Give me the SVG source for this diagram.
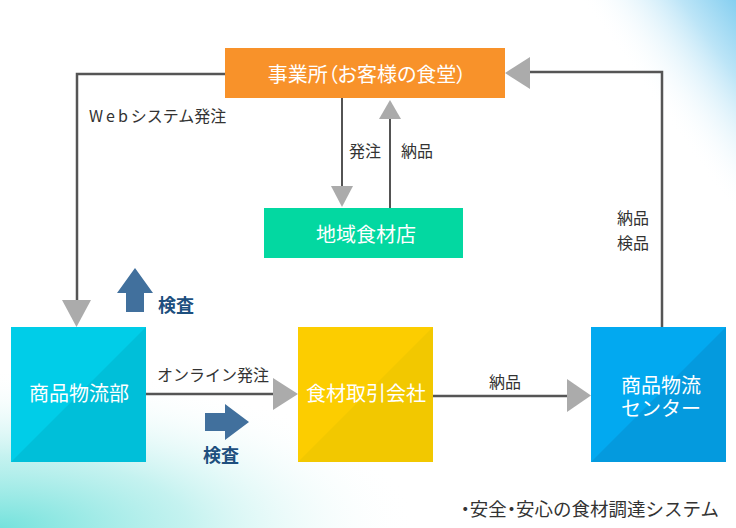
<svg xmlns="http://www.w3.org/2000/svg" width="736" height="528" viewBox="0 0 736 528">
<defs>
<linearGradient id="bgTR" gradientUnits="userSpaceOnUse" x1="736" y1="0" x2="0" y2="528">
<stop offset="0" stop-color="#86cff0"/>
<stop offset="0.05" stop-color="#bde5f7"/>
<stop offset="0.14" stop-color="#ffffff" stop-opacity="0"/>
</linearGradient>
<radialGradient id="bgBL" gradientUnits="userSpaceOnUse" cx="0" cy="528" r="420" gradientTransform="translate(0 528) scale(1 0.38) translate(0 -528)">
<stop offset="0" stop-color="#74e2dc"/>
<stop offset="0.45" stop-color="#b6efec" stop-opacity="0.8"/>
<stop offset="1" stop-color="#ffffff" stop-opacity="0"/>
</radialGradient>
</defs>
<style>
.box-text{font-family:"Noto Sans CJK JP","Noto Sans",sans-serif;font-size:20px;fill:#ffffff;text-anchor:middle;dominant-baseline:central}
.palt{font-feature-settings:"palt" 1}
.lbl{font-family:"Noto Sans CJK JP","Noto Sans",sans-serif;font-size:16px;fill:#333333;dominant-baseline:central}
.insp{font-family:"Noto Sans CJK JP","Noto Sans",sans-serif;font-size:18px;font-weight:bold;fill:#1d4f7e;dominant-baseline:central}
.thick{fill:none;stroke:#555555;stroke-width:2.5}
.thin{fill:none;stroke:#1a1a1a;stroke-width:1.5}
.head{fill:#ababab}
.blue-arrow{fill:#41709d}
.caption{font-family:"Noto Sans CJK JP","Noto Sans",sans-serif;font-size:18.5px;fill:#333333;dominant-baseline:central}
</style>
<rect x="0" y="0" width="736" height="528" fill="#ffffff"/>
<rect x="0" y="0" width="736" height="528" fill="url(#bgTR)"/>
<rect x="0" y="0" width="736" height="528" fill="url(#bgBL)"/>

<g id="connectors">
<polyline class="thick" points="225,74 77,74 77,301"/>
<polygon class="head" points="62,300 91,300 76.5,327"/>
<line class="thin" x1="342" y1="98" x2="342" y2="187"/>
<polygon class="head" points="331,186 353,186 342,207"/>
<line class="thin" x1="390" y1="208" x2="390" y2="118"/>
<polygon class="head" points="379,119 401,119 390,100"/>
<polyline class="thick" points="662,327 662,72 529,72"/>
<polygon class="head" points="530,57 530,89 505,73"/>
<line class="thick" x1="146" y1="394" x2="274" y2="394"/>
<polygon class="head" points="273,378 273,410 298,394"/>
<line class="thick" x1="433" y1="396" x2="568" y2="396"/>
<polygon class="head" points="567,379 567,412 591,395.5"/>
<text class="lbl" x="89" y="115"><tspan letter-spacing="3">Web</tspan>システム発注</text>
<text class="lbl" x="349" y="150">発注</text>
<text class="lbl" x="401" y="150">納品</text>
<text class="lbl" x="617" y="217">納品</text>
<text class="lbl" x="617" y="242">検品</text>
<text class="lbl" x="157" y="374">オンライン発注</text>
<text class="lbl" x="489" y="381">納品</text>
</g>

<g id="inspect-up">
<polygon class="blue-arrow" points="117,293 135,268 153,293 144,293 144,312 126,312 126,293"/>
<text class="insp" x="158" y="304">検査</text>
</g>
<g id="inspect-right">
<polygon class="blue-arrow" points="205,413 225,413 225,404 249,422 225,440 225,431 205,431"/>
<text class="insp" x="203" y="454">検査</text>
</g>

<g id="node-office">
<rect x="225" y="48" width="280" height="50" fill="#f8922a"/>
<text class="box-text palt" x="367" y="73">事業所（お客様の食堂）</text>
</g>
<g id="node-local-store">
<rect x="264" y="208" width="199" height="50" fill="#03d8a1"/>
<text class="box-text" x="366" y="233">地域食材店</text>
</g>
<g id="node-logistics-dept">
<rect x="11" y="327" width="135" height="135" fill="#00cde8"/>
<polygon points="11,462 146,327 146,462" fill="#00bfd9"/>
<text class="box-text" x="79" y="392">商品物流部</text>
</g>
<g id="node-trading">
<rect x="298" y="327" width="135" height="135" fill="#fccd00"/>
<polygon points="298,462 433,327 433,462" fill="#f2c800"/>
<text class="box-text" x="366" y="392">食材取引会社</text>
</g>
<g id="node-center">
<rect x="591" y="327" width="135" height="135" fill="#02a9f0"/>
<polygon points="591,462 726,327 726,462" fill="#049ade"/>
<text class="box-text" x="661" y="384">商品物流<tspan x="661" dy="23">センター</tspan></text>
</g>

<text class="caption" x="719" y="508" text-anchor="end"><tspan class="palt">・</tspan>安全<tspan class="palt">・</tspan>安心の食材調達システム</text>
</svg>
